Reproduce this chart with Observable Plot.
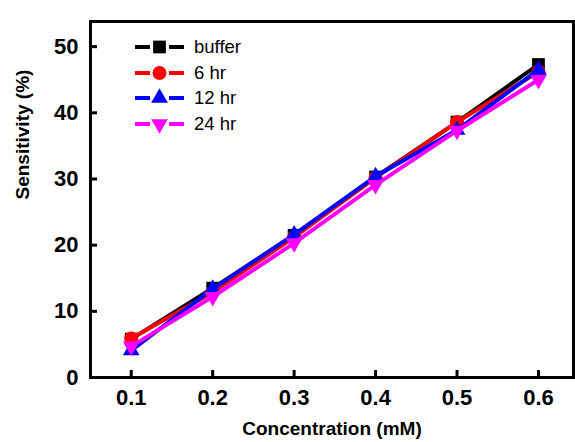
<!DOCTYPE html>
<html><head><meta charset="utf-8">
<script src="https://cdn.jsdelivr.net/npm/d3@7"></script>
<script src="https://cdn.jsdelivr.net/npm/@observablehq/plot@0.6"></script>
<style>
body{margin:0;background:#fff;}
#wrap{position:relative;width:575px;height:442px;font-family:Arial,"Liberation Sans",sans-serif;}
#legend{position:absolute;left:134px;top:34px;}
.row{display:flex;align-items:center;height:25.7px;font-size:18.5px;color:#000;}
.row svg{display:block;margin-right:8px;}
</style></head><body><div id="wrap"><div id="legend"></div></div>
<script>
const concentrations = [0.1, 0.2, 0.3, 0.4, 0.5, 0.6];
const seriesNames = ["buffer", "6 hr", "12 hr", "24 hr"];
const bufferValues = [5.8, 13.5, 21.5, 30.3, 38.6, 47.3];
const hr6Values   = [5.9, 12.9, 21.2, 30.2, 38.6, 46.2];
const hr12Values  = [4.1, 13.4, 21.6, 30.4, 37.4, 46.5];
const hr24Values  = [4.7, 12.2, 20.3, 29.1, 37.3, 45.0];
const xTicks = [0.1, 0.2, 0.3, 0.4, 0.5, 0.6];
const yTicks = [0, 10, 20, 30, 40, 50];
const xTitle = "Concentration (mM)";
const yTitle = "Sensitivity (%)";

const colors = ["#000000", "#ff0000", "#0000ff", "#ff00ff"];
const triangleDown = {
  draw(context, size) {
    const y = -Math.sqrt(size / (3 * Math.sqrt(3)));
    context.moveTo(0, -2 * y);
    context.lineTo(-Math.sqrt(3) * y, y);
    context.lineTo(Math.sqrt(3) * y, y);
    context.closePath();
  }
};
const symbols = [d3.symbolSquare, d3.symbolCircle, d3.symbolTriangle, triangleDown];
const radii = [7.2, 7, 6.2, 6.2];
const allValues = [bufferValues, hr6Values, hr12Values, hr24Values];

const marks = [];
allValues.forEach((vals, i) => {
  const data = concentrations.map((c, j) => ({x: c, y: vals[j], s: seriesNames[i]}));
  marks.push(Plot.line(data, {x: "x", y: "y", stroke: colors[i], strokeWidth: 4}));
  marks.push(Plot.dot(data, {x: "x", y: "y", fill: colors[i], stroke: "none", symbol: () => symbols[i], r: radii[i]}));
});

const chart = Plot.plot({
  width: 575, height: 442,
  marginLeft: 90, marginRight: 2, marginTop: 21, marginBottom: 65,
  style: {fontFamily: "Arial, 'Liberation Sans', sans-serif", background: "#fff", overflow: "visible"},
  x: {domain: [0.05, 0.643]},
  y: {domain: [0, 53.8]},
  marks: [
    ...marks,
    Plot.frame({stroke: "#000", strokeWidth: 3}),
    Plot.axisX(xTicks, {tickSize: -7, tickPadding: 19, strokeWidth: 3, fontSize: 22, fontWeight: "bold", fill: "#000", label: null, tickFormat: d3.format(".1f")}),
    Plot.axisY(yTicks, {tickSize: -7, tickPadding: 19, strokeWidth: 3, fontSize: 22, fontWeight: "bold", fill: "#000", label: null}),
    Plot.text([xTitle], {frameAnchor: "bottom", dy: 51, fontSize: 19, fontWeight: "bold", fill: "#000", lineAnchor: "middle"}),
    Plot.text([yTitle], {frameAnchor: "left", dx: -68, rotate: -90, fontSize: 19, fontWeight: "bold", fill: "#000", lineAnchor: "middle"})
  ]
});
document.getElementById("wrap").prepend(chart);
chart.style.position = "absolute"; chart.style.left = "0"; chart.style.top = "0";

const legend = document.getElementById("legend");
seriesNames.forEach((name, i) => {
  const row = document.createElement("div");
  row.className = "row";
  const svg = d3.create("svg").attr("width", 52).attr("height", 22);
  svg.append("line").attr("x1", 1).attr("x2", 16).attr("y1", 11).attr("y2", 11).attr("stroke", colors[i]).attr("stroke-width", 4);
  svg.append("line").attr("x1", 35).attr("x2", 50).attr("y1", 11).attr("y2", 11).attr("stroke", colors[i]).attr("stroke-width", 4);
  svg.append("path").attr("transform", "translate(25.5,11)").attr("d", d3.symbol().type(symbols[i]).size(Math.PI * radii[i] * radii[i])()).attr("fill", colors[i]);
  row.appendChild(svg.node());
  const t = document.createElement("span");
  t.textContent = name;
  row.appendChild(t);
  legend.appendChild(row);
});
</script>
</body></html>
